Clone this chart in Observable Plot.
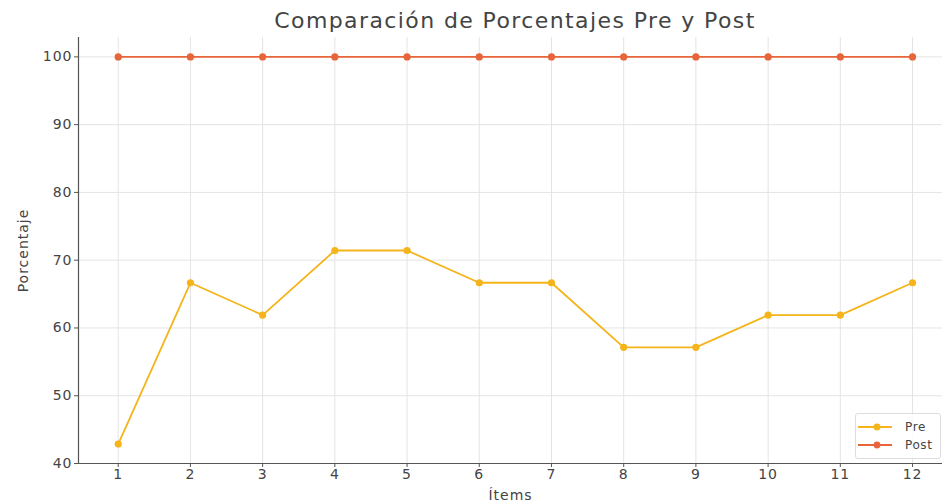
<!DOCTYPE html>
<html>
<head>
<meta charset="utf-8">
<script src="https://cdn.jsdelivr.net/npm/d3@7"></script>
<script src="https://cdn.jsdelivr.net/npm/@observablehq/plot@0.6"></script>
<style>
  body { margin: 0; background: #fff; font-family: "DejaVu Sans", sans-serif; }
  #wrap { position: relative; width: 942px; height: 502px; overflow: hidden; }
  #title { height: 24px; padding-top: 9px; line-height: 24px; font-size: 22px; letter-spacing: 1.4px; color: #444;
           text-align: center; padding-left: 88px; box-sizing: content-box; }
  #legend { position: absolute; left: 855px; top: 413px; width: 86px; height: 46px;
            border: 1px solid #ddd; border-radius: 3px; background: rgba(255,255,255,0.85);
            font-size: 12px; letter-spacing: 0.6px; color: #444; box-sizing: border-box; padding: 4px 0 0 2px; }
  #legend .row { display: flex; align-items: center; height: 18px; }
  #legend svg { margin-right: 13px; }
</style>
</head>
<body>
<div id="wrap">
  <div id="title">Comparación de Porcentajes Pre y Post</div>
  <div id="chart"></div>
  <div id="legend"></div>
</div>
<script>
const items = [1, 2, 3, 4, 5, 6, 7, 8, 9, 10, 11, 12];
const preValues = [42.86, 66.67, 61.90, 71.43, 71.43, 66.67, 66.67, 57.14, 57.14, 61.90, 61.90, 66.67];
const postValues = [100, 100, 100, 100, 100, 100, 100, 100, 100, 100, 100, 100];
const yTicks = [40, 50, 60, 70, 80, 90, 100];
const seriesNames = ["Pre", "Post"];
const seriesColors = ["#f4b41a", "#e8643a"];

const data = [];
items.forEach((it, i) => {
  data.push({item: it, value: preValues[i], serie: "Pre"});
  data.push({item: it, value: postValues[i], serie: "Post"});
});

const xDomain = [0.45, 12.415];
const yDomain = [40, 102.86];

const chart = Plot.plot({
  width: 942,
  height: 469,
  marginLeft: 78,
  marginRight: 0,
  marginTop: 4,
  marginBottom: 39,
  style: {fontFamily: "DejaVu Sans, sans-serif", fontSize: "14px", color: "#444", background: "#fff", letterSpacing: "1px"},
  x: {domain: xDomain},
  y: {domain: yDomain},
  color: {domain: seriesNames, range: seriesColors},
  marks: [
    Plot.gridX(items, {stroke: "#e4e4e4", strokeOpacity: 1, strokeWidth: 1}),
    Plot.gridY(yTicks, {stroke: "#e4e4e4", strokeOpacity: 1, strokeWidth: 1}),
    Plot.axisX(items, {tickFormat: d => d, tickSize: 4, tickPadding: 2, stroke: "#555",
      label: "Ítems", labelAnchor: "center", labelArrow: "none", labelOffset: 36, fontSize: 14}),
    Plot.axisY(yTicks, {tickSize: 4, tickPadding: 2, stroke: "#555",
      label: "Porcentaje", labelAnchor: "center", labelArrow: "none", labelOffset: 60, fontSize: 14}),
    Plot.ruleY([yDomain[0]], {stroke: "#555", strokeWidth: 1.2}),
    Plot.ruleX([xDomain[0]], {stroke: "#555", strokeWidth: 1.2}),
    Plot.line(data, {x: "item", y: "value", z: "serie", stroke: "serie", strokeWidth: 1.8}),
    Plot.dot(data, {x: "item", y: "value", fill: "serie", r: 3.6, stroke: "none"})
  ]
});
document.getElementById("chart").appendChild(chart);

const legend = document.getElementById("legend");
seriesNames.forEach((name, i) => {
  const row = document.createElement("div");
  row.className = "row";
  row.innerHTML = `<svg width="34" height="10"><line x1="0" y1="5" x2="34" y2="5" stroke="${seriesColors[i]}" stroke-width="1.8"/><circle cx="19" cy="5" r="3.4" fill="${seriesColors[i]}"/></svg><span>${name}</span>`;
  legend.appendChild(row);
});
</script>
</body>
</html>
